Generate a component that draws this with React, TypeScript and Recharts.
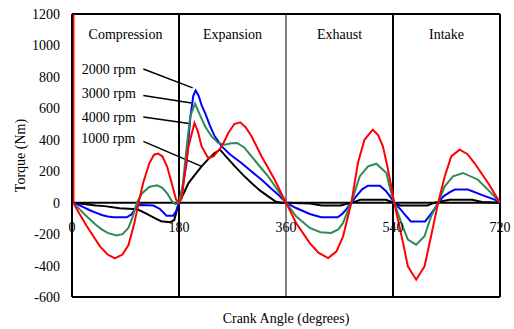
import React from 'react';
import { LineChart, Line, XAxis, YAxis, ReferenceLine, ReferenceArea, ReferenceDot } from 'recharts';

const xTicks = [0, 180, 360, 540, 720];
const yTicks = [-600, -400, -200, 0, 200, 400, 600, 800, 1000, 1200];

const phaseNames = ['Compression', 'Expansion', 'Exhaust', 'Intake'];
const phaseStarts = [0, 180, 360, 540];
const phaseEnds = [180, 360, 540, 720];

const angles1000 = [0, 20, 40, 55, 80, 110, 125, 140, 150, 165, 172, 177, 180, 188, 196, 207, 218, 230, 240, 249, 260, 274, 288, 302, 316, 330, 342, 352, 360, 400, 420, 452, 465, 475, 485, 528, 538, 540, 552, 598, 610, 635, 673, 690, 720];
const torque1000 = [0, -8, -18, -22, -35, -42, -70, -100, -118, -125, -110, -40, 0, 60, 125, 178, 231, 280, 316, 337, 290, 231, 175, 125, 78, 40, 8, 0, 0, -5, -18, -18, -5, 5, 18, 18, 5, 0, -18, -18, 0, 18, 18, 5, 0];

const angles2000 = [0, 10, 20, 30, 40, 50, 60, 70, 92, 100, 106, 110, 117, 137, 148, 159, 170, 175, 180, 186, 193, 199, 204, 208, 213, 218, 224, 232, 240, 252, 265, 285, 300, 319, 335, 347, 360, 377, 400, 419, 447, 455, 462, 470, 478, 488, 498, 518, 528, 535, 542, 552, 562, 570, 594, 602, 610, 616, 625, 635, 644, 666, 688, 711, 720];
const torque2000 = [0, -12, -30, -48, -63, -78, -88, -93, -93, -75, -40, -18, -15, -18, -40, -83, -83, -55, 0, 100, 260, 540, 680, 714, 680, 620, 570, 490, 422, 358, 310, 252, 205, 146, 90, 51, 0, -34, -72, -93, -93, -70, -40, 0, 40, 85, 108, 108, 75, 40, 0, -40, -85, -119, -119, -80, -40, 0, 40, 65, 83, 83, 51, 19, 0];

const angles3000 = [0, 10, 20, 30, 40, 50, 60, 75, 85, 95, 102, 109, 118, 130, 143, 152, 160, 168, 174, 180, 186, 193, 199, 207, 215, 224, 235, 246, 257, 268, 278, 290, 302, 316, 330, 345, 360, 377, 400, 418, 436, 448, 456, 467, 470, 484, 498, 512, 529, 534, 542, 554, 565, 579, 593, 604, 616, 627, 641, 658, 683, 705, 720];
const torque3000 = [0, -30, -70, -105, -140, -170, -192, -208, -200, -160, -90, 0, 60, 100, 110, 95, 60, 10, -10, 0, 100, 358, 550, 630, 560, 485, 420, 380, 369, 378, 380, 350, 294, 230, 167, 85, 0, -87, -161, -188, -193, -170, -129, -23, 0, 167, 231, 248, 189, 104, 0, -129, -235, -267, -214, -87, 0, 104, 167, 189, 146, 62, 0];

const angles4000 = [2.5, 2.5, 10, 25, 47, 60, 72, 85, 95, 105, 112, 120, 130, 138, 145, 152, 160, 168, 175, 180, 185, 190, 196, 206, 212, 218, 229, 238, 252, 263, 273, 283, 292, 302, 319, 330, 341, 352, 360, 377, 400, 415, 431, 445, 456, 470, 481, 492, 506, 515, 523, 530, 537, 542, 557, 565, 579, 593, 604, 616, 627, 638, 652, 665, 677, 700, 720];
const torque4000 = [1300, 0, -55, -150, -278, -330, -355, -330, -270, -130, 0, 130, 250, 305, 312, 295, 230, 120, 20, 0, 30, 200, 358, 507, 450, 358, 284, 295, 358, 443, 500, 511, 480, 422, 294, 220, 146, 60, 0, -129, -257, -320, -352, -310, -214, 0, 252, 400, 464, 430, 358, 240, 104, 0, -257, -405, -490, -405, -214, 0, 167, 294, 337, 310, 252, 125, 0];

const seriesNames = ['1000 rpm', '2000 rpm', '3000 rpm', '4000 rpm'];
const seriesColors = ['#000000', '#0000FF', '#2E8B57', '#FF0000'];
const seriesAngles = [angles1000, angles2000, angles3000, angles4000];
const seriesTorques = [torque1000, torque2000, torque3000, torque4000];

// annotation labels (data coordinates) and leader lines
const noteNames = ['2000 rpm', '3000 rpm', '4000 rpm', '1000 rpm'];
const noteX = [62, 62, 62, 61];
const noteY = [852, 700, 547, 410];
const leaderStart = [[120, 850], [120, 681], [120, 545], [120, 390]];
const leaderEnd = [[203, 730], [201, 634], [200, 502], [218, 231]];

const font = '"Liberation Serif", "Times New Roman", serif';

export default function App() {
  const series = seriesNames.map((name, i) => ({
    name,
    color: seriesColors[i],
    data: seriesAngles[i].map((a, j) => ({ a, t: seriesTorques[i][j] })),
  }));
  return (
    <div style={{ position: 'absolute', left: 0, top: 0 }}>
      <LineChart
        width={514}
        height={329}
        margin={{ top: 14, right: 14, bottom: 0, left: 0 }}
        style={{ fontFamily: font }}
      >
        <XAxis
          dataKey="a"
          type="number"
          domain={[0, 720]}
          ticks={xTicks}
          tick={false}
          axisLine={false}
          tickLine={false}
          height={32}
          allowDataOverflow
          label={{ value: 'Crank Angle (degrees)', position: 'insideBottom', offset: 6, fill: '#000', fontSize: 14, fontFamily: font }}
        />
        <YAxis
          type="number"
          domain={[-600, 1200]}
          ticks={yTicks}
          allowDataOverflow
          width={72}
          tickLine={false}
          tickSize={0}
          tickMargin={12}
          axisLine={{ stroke: '#000', strokeWidth: 2 }}
          tick={{ fill: '#000', fontSize: 14, fontFamily: font }}
          label={{ value: 'Torque (Nm)', angle: -90, position: 'insideLeft', offset: 20, fill: '#000', fontSize: 14, fontFamily: font, style: { textAnchor: 'middle' } }}
        />
        {phaseNames.map((p, i) => (
          <ReferenceArea
            key={p}
            x1={phaseStarts[i]}
            x2={phaseEnds[i]}
            fill="none"
            fillOpacity={0}
            stroke="none"
            label={{ value: p, position: 'insideTop', offset: 15, fill: '#000', fontSize: 14, fontFamily: font }}
          />
        ))}
        <ReferenceLine y={1200} stroke="#000" strokeWidth={2} />
        <ReferenceLine y={-600} stroke="#000" strokeWidth={2} />
        <ReferenceLine x={720} stroke="#000" strokeWidth={2} />
        <ReferenceLine x={180} stroke="#000" strokeWidth={2} />
        <ReferenceLine x={540} stroke="#000" strokeWidth={2} />
        <ReferenceLine x={360} stroke="#000" strokeWidth={1} />
        <ReferenceLine y={0} stroke="#000" strokeWidth={2} />
        {xTicks.map((v) => (
          <ReferenceDot
            key={'xt' + v}
            x={v}
            y={0}
            r={1}
            fill="none"
            stroke="none"
            label={{ value: String(v), position: 'bottom', offset: 18, fill: '#000', fontSize: 14, fontFamily: font }}
          />
        ))}
        {noteNames.map((n, i) => (
          <ReferenceLine
            key={'ln' + n}
            segment={[
              { x: leaderStart[i][0], y: leaderStart[i][1] },
              { x: leaderEnd[i][0], y: leaderEnd[i][1] },
            ]}
            stroke="#000"
            strokeWidth={1.5}
          />
        ))}
        {noteNames.map((n, i) => (
          <ReferenceDot
            key={'nt' + n}
            x={noteX[i]}
            y={noteY[i]}
            r={1}
            fill="none"
            stroke="none"
            label={{ value: n, position: 'center', fill: '#000', fontSize: 14, fontFamily: font }}
          />
        ))}
        {series.map((s) => (
          <Line
            key={s.name}
            data={s.data}
            dataKey="t"
            name={s.name}
            type="linear"
            stroke={s.color}
            strokeWidth={2}
            dot={false}
            activeDot={false}
            isAnimationActive={false}
          />
        ))}
      </LineChart>
    </div>
  );
}
